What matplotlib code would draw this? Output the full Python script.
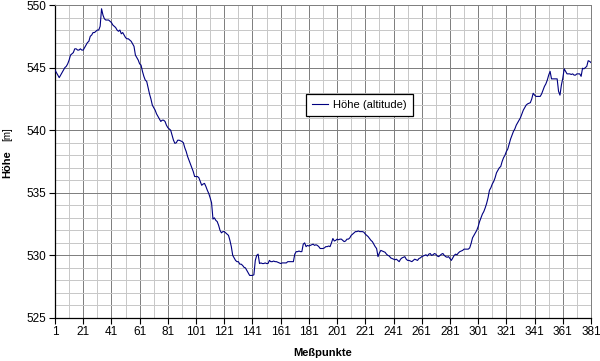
import matplotlib
matplotlib.use("Agg")
import matplotlib.pyplot as plt
from matplotlib.ticker import MultipleLocator, FixedLocator

plt.rcParams["font.family"] = ["Liberation Sans", "DejaVu Sans"]

hoehe = [
    544.8, 544.6, 544.4, 544.2, 544.4, 544.6, 544.8, 545.0, 545.1, 545.3,
    545.6, 546.0, 546.1, 546.2, 546.5, 546.5, 546.4, 546.4, 546.5, 546.4,
    546.4, 546.6, 546.8, 547.0, 547.1, 547.5, 547.6, 547.8, 547.8, 547.9,
    548.0, 548.0, 548.3, 549.7, 549.2, 548.9, 548.8, 548.8, 548.8, 548.7,
    548.6, 548.4, 548.3, 548.2, 548.0, 547.9, 548.0, 547.7, 547.8, 547.6,
    547.4, 547.3, 547.3, 547.2, 547.1, 546.9, 546.7, 546.0, 545.8, 545.6,
    545.3, 545.2, 544.7, 544.3, 544.0, 543.9, 543.4, 542.9, 542.5, 542.0,
    541.8, 541.6, 541.3, 541.1, 540.9, 540.7, 540.8, 540.8, 540.7, 540.4,
    540.2, 540.1, 540.0, 539.6, 539.2, 538.95, 539.0, 539.2, 539.2, 539.15,
    539.1, 539.0, 538.6, 538.3, 537.9, 537.6, 537.3, 537.0, 536.7, 536.3,
    536.3, 536.3, 536.2, 535.9, 535.6, 535.7, 535.75, 535.5, 535.2, 534.95,
    534.6, 534.2, 532.9, 533.0, 532.8, 532.7, 532.4, 532.0, 531.8, 531.9,
    531.9, 531.8, 531.7, 531.6, 531.2, 530.7, 530.0, 529.8, 529.6, 529.5,
    529.5, 529.3, 529.3, 529.2, 529.05, 529.0, 528.8, 528.6, 528.4, 528.4,
    528.4, 528.45, 529.6, 530.0, 530.1, 529.35, 529.4, 529.35, 529.35, 529.4,
    529.35, 529.35, 529.6, 529.5, 529.5, 529.55, 529.5, 529.5, 529.45, 529.4,
    529.35, 529.4, 529.4, 529.4, 529.4, 529.5, 529.5, 529.5, 529.5, 529.5,
    530.1, 530.3, 530.3, 530.35, 530.3, 530.3, 530.9, 531.0, 530.7, 530.8,
    530.75, 530.8, 530.85, 530.9, 530.8, 530.85, 530.8, 530.7, 530.55, 530.55,
    530.55, 530.6, 530.7, 530.7, 530.75, 530.7, 531.0, 531.35, 531.15, 531.2,
    531.3, 531.25, 531.3, 531.3, 531.2, 531.1, 531.15, 531.3, 531.3, 531.4,
    531.6, 531.7, 531.8, 531.9, 531.9, 531.95, 531.9, 531.9, 531.9, 531.85,
    531.7, 531.6, 531.5, 531.35, 531.2, 531.1, 530.9, 530.7, 530.55, 529.9,
    530.2, 530.4, 530.35, 530.3, 530.25, 530.1, 530.0, 529.95, 529.8, 529.75,
    529.7, 529.65, 529.7, 529.6, 529.5, 529.7, 529.8, 529.85, 529.9, 529.7,
    529.6, 529.6, 529.55, 529.5, 529.6, 529.7, 529.65, 529.6, 529.75, 529.8,
    529.9, 529.95, 530.0, 530.05, 529.95, 530.1, 530.15, 530.0, 530.05, 530.15,
    530.1, 529.95, 529.9, 530.0, 530.1, 530.15, 530.0, 529.9, 529.85, 529.9,
    529.75, 529.6, 529.8, 530.0, 530.1, 530.05, 530.2, 530.3, 530.35, 530.4,
    530.5, 530.5, 530.5, 530.5, 530.6, 530.95, 531.4, 531.6, 531.8, 532.0,
    532.3, 532.7, 533.0, 533.3, 533.5, 533.8, 534.15, 534.6, 535.2, 535.4,
    535.7, 535.9, 536.2, 536.6, 536.8, 537.0, 537.1, 537.5, 537.8, 538.0,
    538.3, 538.5, 538.9, 539.3, 539.6, 539.9, 540.1, 540.4, 540.6, 540.8,
    541.0, 541.3, 541.6, 541.8, 542.0, 542.1, 542.15, 542.2, 542.5, 542.95,
    542.8, 542.7, 542.7, 542.7, 542.7, 542.9, 543.2, 543.5, 543.7, 544.0,
    544.4, 544.7, 544.1, 544.1, 544.1, 544.1, 544.1, 543.1, 542.8, 543.6,
    544.15, 544.9, 544.7, 544.5, 544.5, 544.5, 544.45, 544.5, 544.4, 544.4,
    544.5, 544.5, 544.5, 544.3, 544.95, 544.9, 545.0, 545.1, 545.55, 545.5,
    545.4,
]
messpunkte = list(range(1, len(hoehe) + 1))
x_ticks = list(range(1, 382, 20))
y_ticks = [525, 530, 535, 540, 545, 550]

fig = plt.figure(figsize=(6.0, 3.61), dpi=100)
ax = fig.add_axes([55 / 600, 1 - 318 / 361, 536 / 600, 313 / 361])

ax.plot(messpunkte, hoehe, color="#000080", lw=0.8, label="Höhe (altitude)", zorder=3)

ax.set_xlim(1, 381)
ax.set_ylim(525, 550)
ax.xaxis.set_major_locator(FixedLocator(x_ticks))
ax.xaxis.set_minor_locator(FixedLocator(list(range(11, 381, 20))))
ax.yaxis.set_major_locator(FixedLocator(y_ticks))
ax.yaxis.set_minor_locator(MultipleLocator(1))

ax.grid(which="minor", color="#c8c8c8", lw=0.72, zorder=0)
ax.grid(which="major", color="#808080", lw=0.72, zorder=1)
ax.set_axisbelow(True)

ax.tick_params(which="major", direction="out", length=4, width=0.8,
               labelsize=8.5, pad=2)
ax.tick_params(which="minor", length=0)
for s in ["left", "bottom"]:
    ax.spines[s].set_color("black")
    ax.spines[s].set_linewidth(0.9)
for s in ["top", "right"]:
    ax.spines[s].set_color("#808080")
    ax.spines[s].set_linewidth(0.72)

fig.text(323 / 600, 1 - 353 / 361, "Meßpunkte", ha="center", va="center",
         fontsize=8, fontweight="bold")
fig.text(7 / 600, 1 - 164 / 361, "Höhe", ha="center", va="center",
         rotation=90, fontsize=8, fontweight="bold")
fig.text(7 / 600, 1 - 134 / 361, "[m]", ha="center", va="center",
         rotation=90, fontsize=7)

leg = ax.legend(loc="center", bbox_to_anchor=(0.568, 0.68), fontsize=8,
                frameon=True, fancybox=False, framealpha=1, edgecolor="black",
                handlelength=1.5, handletextpad=0.45, borderpad=0.55,
                borderaxespad=0)
leg.get_frame().set_linewidth(0.9)

fig.savefig("out.png", dpi=100)
